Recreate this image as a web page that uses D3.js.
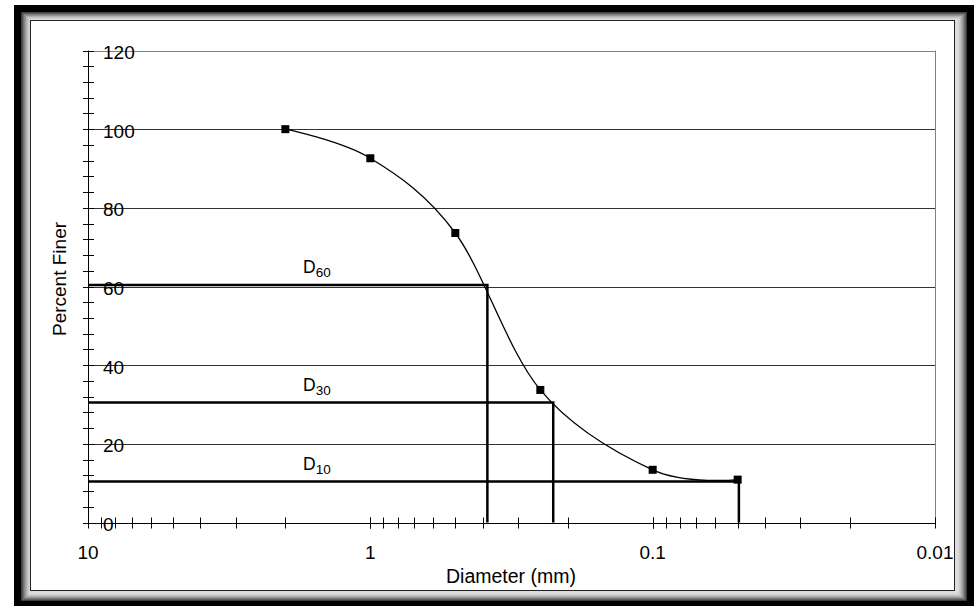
<!DOCTYPE html>
<html>
<head>
<meta charset="utf-8">
<script src="https://cdn.jsdelivr.net/npm/d3@7"></script>
<style>
  body { margin: 0; background: #fff; }
  svg { display: block; font-family: Arial, "Liberation Sans", sans-serif; }
</style>
</head>
<body>
<div id="chart"></div>
<script>
// sieve analysis data
var diameters = [2, 1, 0.5, 0.25, 0.1, 0.05];
var percentFiner = [100, 92.6, 73.6, 33.7, 13.4, 10.9];

// characteristic sizes D60, D30, D10
var dNames = ["60", "30", "10"];
var dPercents = [60.4, 30.5, 10.4];
var dSizes = [0.385, 0.225, 0.0495];

var xTickValues = [10, 1, 0.1, 0.01];
var xTickLabels = ["10", "1", "0.1", "0.01"];
var yTickValues = [0, 20, 40, 60, 80, 100, 120];

var width = 974;
var height = 606;

var svg = d3.select("#chart")
    .append("svg")
    .attr("width", width)
    .attr("height", height);

// frame: black shadow, grey bevel, white panel
svg.append("rect")
    .attr("x", 14).attr("y", 5)
    .attr("width", width - 14).attr("height", height - 5)
    .attr("fill", "#000");

var bevel = ["#3a3a3a", "#555", "#6e6e6e", "#858585", "#9a9a9a", "#adadad", "#bdbdbd", "#cacaca", "#d4d4d4", "#dcdcdc"];
bevel.forEach(function(c, i) {
    svg.append("rect")
        .attr("x", 21 + i).attr("y", 12 + i * 0.8)
        .attr("width", 946 - i * 2).attr("height", 589 - i * 1.6)
        .attr("fill", c);
});

svg.append("rect")
    .attr("x", 30.5).attr("y", 20.5)
    .attr("width", 924).attr("height", 570)
    .attr("fill", "#fff")
    .attr("stroke", "#222")
    .attr("stroke-width", 1);

var x = d3.scaleLog().domain([10, 0.01]).range([88, 935]);
var y = d3.scaleLinear().domain([0, 120]).range([522.5, 50.5]);

// plot area border (right side)
svg.append("line")
    .attr("x1", x(0.01) + 0.5).attr("x2", x(0.01) + 0.5)
    .attr("y1", y(120)).attr("y2", y(0))
    .attr("stroke", "#808080");

// gridlines
svg.append("g")
    .selectAll("line")
    .data(yTickValues.filter(d => d > 0))
    .enter()
    .append("line")
    .attr("x1", x(10)).attr("x2", x(0.01))
    .attr("y1", d => Math.round(y(d)) + 0.5)
    .attr("y2", d => Math.round(y(d)) + 0.5)
    .attr("stroke", d => d === 120 ? "#808080" : "#333")
    .attr("stroke-width", 1);

// y axis with minor ticks every 4
var yMinor = d3.range(0, 121, 4);
svg.append("line")
    .attr("x1", x(10) + 0.5).attr("x2", x(10) + 0.5)
    .attr("y1", y(120)).attr("y2", y(0))
    .attr("stroke", "#000");
svg.append("g")
    .selectAll("line")
    .data(yMinor)
    .enter()
    .append("line")
    .attr("x1", x(10) - 5).attr("x2", x(10) + 6)
    .attr("y1", d => Math.round(y(d)) + 0.5)
    .attr("y2", d => Math.round(y(d)) + 0.5)
    .attr("stroke", "#000");

svg.append("g")
    .selectAll("text")
    .data(yTickValues)
    .enter()
    .append("text")
    .attr("x", 103)
    .attr("y", d => y(d) + 8.5)
    .attr("font-size", 19)
    .attr("fill", "#000")
    .text(d => d);

// x axis (log, reversed) with minor ticks
var xMinor = [];
[1, 0.1, 0.01].forEach(function(dec) {
    for (var k = 1; k <= 10; k++) xMinor.push(dec * k);
});
svg.append("line")
    .attr("x1", x(10)).attr("x2", x(0.01))
    .attr("y1", Math.round(y(0)) + 0.5).attr("y2", Math.round(y(0)) + 0.5)
    .attr("stroke", "#000");
svg.append("g")
    .selectAll("line")
    .data(xMinor)
    .enter()
    .append("line")
    .attr("x1", d => Math.round(x(d)) + 0.5)
    .attr("x2", d => Math.round(x(d)) + 0.5)
    .attr("y1", y(0) - 5).attr("y2", y(0) + 6)
    .attr("stroke", "#000");

svg.append("g")
    .selectAll("text")
    .data(xTickValues)
    .enter()
    .append("text")
    .attr("x", d => x(d))
    .attr("y", y(0) + 36)
    .attr("text-anchor", "middle")
    .attr("font-size", 19)
    .text((d, i) => xTickLabels[i]);

// axis titles
svg.append("text")
    .attr("transform", "translate(66,279) rotate(-90)")
    .attr("text-anchor", "middle")
    .attr("font-size", 19)
    .text("Percent Finer");

svg.append("text")
    .attr("x", 511).attr("y", 583)
    .attr("text-anchor", "middle")
    .attr("font-size", 19.5)
    .text("Diameter (mm)");

// D lines
var dGroup = svg.append("g");
dNames.forEach(function(name, i) {
    var px = x(dSizes[i]);
    var py = y(dPercents[i]);
    dGroup.append("path")
        .attr("d", "M" + x(10) + "," + py + "H" + px + "V" + y(0))
        .attr("fill", "none")
        .attr("stroke", "#000")
        .attr("stroke-width", 2.5);
    var t = dGroup.append("text")
        .attr("x", 303)
        .attr("y", py - 12)
        .attr("font-size", 17.5);
    t.append("tspan").text("D");
    t.append("tspan")
        .attr("font-size", 13.5)
        .attr("dy", 4)
        .text(name);
});

// smoothed gradation curve
var points = diameters.map((d, i) => [d, percentFiner[i]]);
var line = d3.line()
    .x(d => x(d[0]))
    .y(d => y(d[1]))
    .curve(d3.curveCatmullRom.alpha(0));

svg.append("path")
    .datum(points)
    .attr("d", line)
    .attr("fill", "none")
    .attr("stroke", "#000")
    .attr("stroke-width", 1.3);

svg.append("g")
    .selectAll("rect")
    .data(points)
    .enter()
    .append("rect")
    .attr("x", d => x(d[0]) - 4)
    .attr("y", d => y(d[1]) - 4)
    .attr("width", 8)
    .attr("height", 8)
    .attr("fill", "#000");
</script>
</body>
</html>
